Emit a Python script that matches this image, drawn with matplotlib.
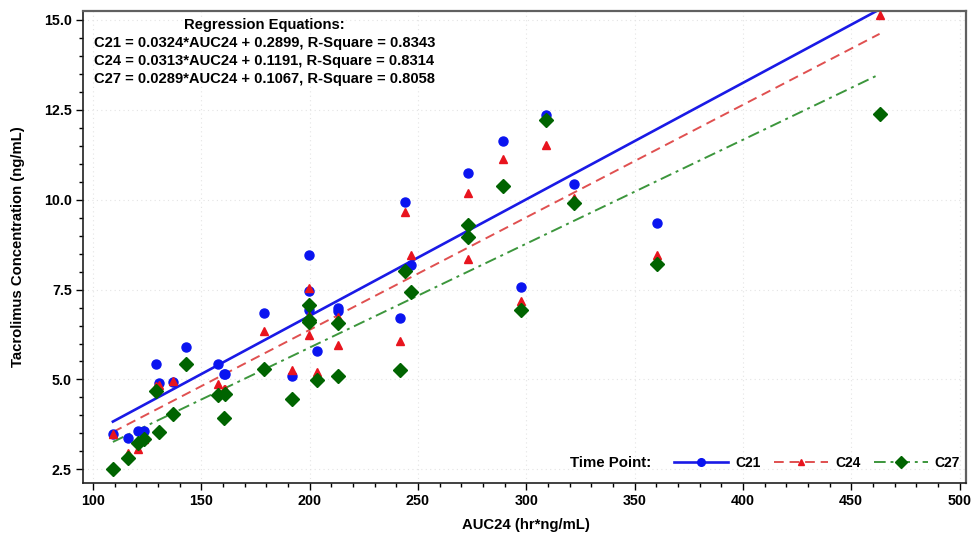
import matplotlib
matplotlib.use('Agg')
import matplotlib.pyplot as plt
from matplotlib.ticker import MultipleLocator
import numpy as np

# ---- data ----
auc24 = [109.2, 116.0, 120.9, 123.4, 128.9, 130.4, 137.0, 142.8, 157.7, 161.0,
         160.6, 179.0, 192.1, 199.9, 199.9, 199.9, 203.2, 212.9, 212.9, 241.6,
         243.9, 246.7, 273.2, 273.2, 289.3, 297.8, 309.3, 321.9, 360.3, 463.1]
c21 = [3.47, 3.38, 3.56, 3.56, 5.43, 4.89, 4.94, 5.91, 5.42, 5.15,
       5.15, 6.85, 5.11, 8.47, 7.45, 6.92, 5.78, 6.98, 6.90, 6.70,
       9.94, 8.19, 10.75, 8.95, 11.62, 7.58, 12.35, 10.44, 9.34, 15.60]
c24 = [3.47, 2.95, 3.06, 3.35, 4.81, 4.85, 4.95, 5.45, 4.88, 4.74,
       4.74, 6.36, 5.25, 7.54, 6.78, 6.23, 5.22, 6.73, 5.96, 6.06,
       9.65, 8.47, 10.20, 8.34, 11.13, 7.19, 11.53, 10.06, 8.47, 15.14]
c27 = [2.50, 2.81, 3.23, 3.35, 4.67, 3.54, 4.03, 5.44, 4.58, 4.60,
       3.94, 5.28, 4.46, 7.08, 6.59, 6.65, 4.99, 6.56, 5.09, 5.27,
       8.01, 7.44, 9.31, 8.95, 10.39, 6.94, 12.22, 9.90, 8.21, 12.38]

series_names = ['C21', 'C24', 'C27']
slopes = [0.0324, 0.0313, 0.0289]
intercepts = [0.2899, 0.1191, 0.1067]
r_square = [0.8343, 0.8314, 0.8058]

x_ticks = [100, 150, 200, 250, 300, 350, 400, 450, 500]
y_ticks = [2.5, 5.0, 7.5, 10.0, 12.5, 15.0]

# ---- style ----
plt.rcParams['font.family'] = ['Liberation Sans', 'DejaVu Sans']
plt.rcParams['font.weight'] = 'bold'

W, H = 973, 533
fig = plt.figure(figsize=(W / 100, H / 100), dpi=100)
L, R, T, B = 83, 966, 11, 483
ax = fig.add_axes([L / W, 1 - B / H, (R - L) / W, (B - T) / H])

colors_pt = ['#0a14f0', '#e8141e', '#006400']
colors_ln = ['#1a1ae6', '#e05050', '#3c963c']
markers = ['o', '^', 'D']
msizes = [6.5, 6.0, 7.0]
lstyles = ['-', (0, (5, 3)), (0, (6, 2.5, 1.5, 2.5))]
lwidths = [1.9, 1.4, 1.4]

x = np.array(auc24)
ys = [np.array(c21), np.array(c24), np.array(c27)]
xl = np.array([x.min(), x.max()])

handles = []
for i in range(3):
    ax.plot(x, ys[i], linestyle='none', marker=markers[i], ms=msizes[i],
            color=colors_pt[i], markeredgecolor=colors_pt[i], zorder=3)
    ax.plot(xl, slopes[i] * xl + intercepts[i], linestyle=lstyles[i],
            lw=lwidths[i], color=colors_ln[i], zorder=2)
    h, = ax.plot([], [], linestyle=lstyles[i], lw=lwidths[i], color=colors_ln[i],
                 marker=markers[i], ms=msizes[i] - 1, markerfacecolor=colors_pt[i],
                 markeredgecolor=colors_pt[i], label=series_names[i])
    handles.append(h)

ax.set_xlim(95.4, 503)
ax.set_ylim(2.12, 15.25)
ax.set_xticks(x_ticks)
ax.set_yticks(y_ticks)
ax.set_yticklabels([f'{v:.1f}' for v in y_ticks])
ax.xaxis.set_minor_locator(MultipleLocator(10))
ax.yaxis.set_minor_locator(MultipleLocator(0.5))
ax.tick_params(which='major', length=5, width=1, labelsize=10.3, pad=3)
ax.tick_params(which='minor', length=3, width=1)
for lab in ax.get_xticklabels() + ax.get_yticklabels():
    lab.set_fontweight('bold')

ax.grid(True, which='major', color='#e4e4e4', linestyle=(0, (1, 3)), lw=0.8, zorder=0)
for s in ['left', 'bottom']:
    ax.spines[s].set_color('#202020')
    ax.spines[s].set_linewidth(1.2)
for s in ['top', 'right']:
    ax.spines[s].set_color('#606060')
    ax.spines[s].set_linewidth(1.6)

# regression text
fs = 10.6
fig.text(264 / W, 1 - 28.5 / H, 'Regression Equations:', ha='center', va='baseline',
         fontsize=fs, fontweight='bold')
base = [47.3, 65.0, 82.7]
for i in range(3):
    fig.text(94 / W, 1 - base[i] / H,
             f'{series_names[i]} = {slopes[i]:.4f}*AUC24 + {intercepts[i]:.4f}, '
             f'R-Square = {r_square[i]:.4f}',
             ha='left', va='baseline', fontsize=fs, fontweight='bold')

# axis labels
fig.text(18 / W, 1 - 247 / H, 'Tacrolimus Concentration (ng/mL)', rotation=90,
         ha='center', va='center', fontsize=10.7, fontweight='bold')
fig.text(526 / W, 1 - 525 / H, 'AUC24 (hr*ng/mL)', ha='center', va='center',
         fontsize=10.7, fontweight='bold')

# legend
leg = ax.legend(handles=handles, loc='center right', ncol=3, frameon=False,
                bbox_to_anchor=(960 / W, 1 - 463 / H), bbox_transform=fig.transFigure,
                borderaxespad=0, borderpad=0, handlelength=3.9, handletextpad=0.5,
                columnspacing=0.95, numpoints=1, prop={'size': 10, 'weight': 'bold'})
fig.text(651 / W, 1 - 463 / H, 'Time Point:', ha='right', va='center',
         fontsize=10.8, fontweight='bold')

fig.savefig('out.png', dpi=100)
